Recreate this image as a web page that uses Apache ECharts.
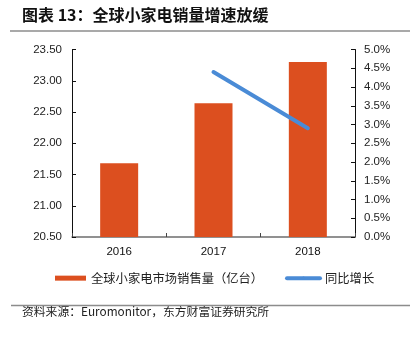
<!DOCTYPE html>
<html>
<head>
<meta charset="utf-8">
<style>
  html, body { margin: 0; padding: 0; background: #fff; }
  #chart { width: 418px; height: 340px; }
</style>
<script src="https://cdn.jsdelivr.net/npm/echarts@6/dist/echarts.min.js"></script>
</head>
<body>
<div id="chart"></div>
<script>
// Global small home appliance sales (100 million units) and YoY growth
const years = ['2016', '2017', '2018'];
const salesVolume = [21.68, 22.64, 23.30];
const yoyGrowth = [null, 4.4, 2.9];
const leftTicks = { min: 20.5, max: 23.5, interval: 0.5 };
const rightTicks = { min: 0, max: 5, interval: 0.5 };

const cjk = '"Noto Sans CJK SC", "Noto Sans", sans-serif';
const latin = '"Liberation Sans", Arial, sans-serif';

const chart = echarts.init(document.getElementById('chart'), null, { renderer: 'canvas' });

chart.setOption({
  animation: false,
  backgroundColor: '#fff',
  grid: { left: 72, right: 63, top: 49.5, bottom: 103, containLabel: false },
  graphic: [
    {
      type: 'text', left: 22, top: 7,
      style: { text: '图表 13：全球小家电销量增速放缓', font: 'bold 16px ' + cjk, fill: '#111' }
    },
    {
      type: 'line', shape: { x1: 10, y1: 31, x2: 410, y2: 31 },
      style: { stroke: '#8c8c8c', lineWidth: 1.5 }
    },
    {
      type: 'line', shape: { x1: 11, y1: 305.5, x2: 410, y2: 305.5 },
      style: { stroke: '#8c8c8c', lineWidth: 1.5 }
    },
    {
      type: 'text', left: 22, top: 306,
      style: { text: '资料来源：Euromonitor，东方财富证券研究所', font: '11.8px ' + cjk, fill: '#222' }
    }
  ],
  legend: [
    {
      data: [{ name: '全球小家电市场销售量（亿台）', icon: 'rect' }],
      left: 50, top: 267,
      itemWidth: 31, itemHeight: 5, itemGap: 5,
      textStyle: { fontFamily: cjk, fontSize: 12.3, color: '#222' }
    },
    {
      data: [{ name: '同比增长', lineStyle: { width: 4, cap: 'round' } }],
      left: 280, top: 267,
      itemWidth: 33, itemHeight: 4, itemGap: 5,
      textStyle: { fontFamily: cjk, fontSize: 12.3, color: '#222' }
    }
  ],
  xAxis: {
    type: 'category',
    data: years,
    boundaryGap: true,
    axisLine: { lineStyle: { color: '#6e6e6e', width: 1.5 } },
    axisTick: { show: true, inside: true, length: 4, alignWithLabel: false, lineStyle: { color: '#444' } },
    axisLabel: { color: '#111', fontFamily: latin, fontSize: 11.5, margin: 9 }
  },
  yAxis: [
    {
      type: 'value',
      min: leftTicks.min, max: leftTicks.max, interval: leftTicks.interval,
      splitLine: { show: false },
      axisLine: { show: true, lineStyle: { color: '#111', width: 1 } },
      axisTick: { show: true, inside: true, length: 4, lineStyle: { color: '#111' } },
      axisLabel: {
        color: '#222', fontFamily: latin, fontSize: 11.5, margin: 10,
        formatter: v => v.toFixed(2)
      }
    },
    {
      type: 'value',
      min: rightTicks.min, max: rightTicks.max, interval: rightTicks.interval,
      position: 'right',
      splitLine: { show: false },
      axisLine: { show: true, lineStyle: { color: '#111', width: 1 } },
      axisTick: { show: true, inside: true, length: 4, lineStyle: { color: '#111' } },
      axisLabel: {
        color: '#222', fontFamily: latin, fontSize: 11.5, margin: 9,
        formatter: v => v.toFixed(1) + '%'
      }
    }
  ],
  series: [
    {
      name: '全球小家电市场销售量（亿台）',
      type: 'bar',
      data: salesVolume,
      yAxisIndex: 0,
      barWidth: 38,
      itemStyle: { color: '#dc4f1f' }
    },
    {
      name: '同比增长',
      type: 'line',
      data: yoyGrowth,
      yAxisIndex: 1,
      symbol: 'none',
      lineStyle: { color: '#4a8bd6', width: 4, cap: 'round' },
      itemStyle: { color: '#4a8bd6' }
    }
  ]
});
</script>
</body>
</html>
